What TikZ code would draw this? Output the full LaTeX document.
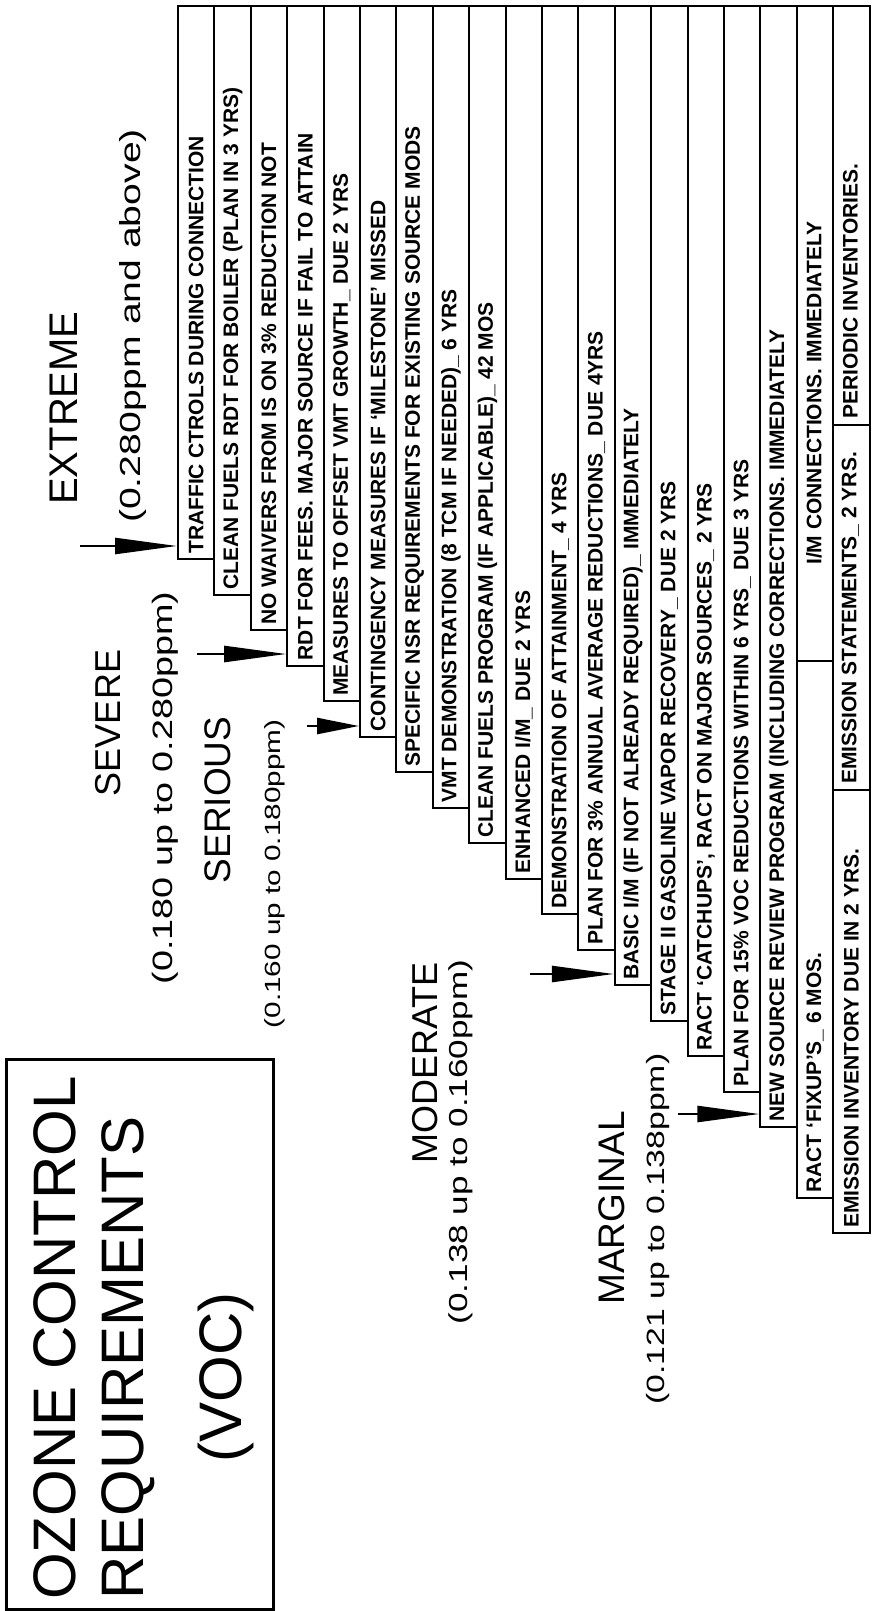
\documentclass[tikz,border=0pt]{standalone}
\usepackage{fontspec}
\usetikzlibrary{arrows.meta}
\newfontfamily\rowfont{Liberation Sans}[Ligatures=TeX]
\newfontfamily\lblfont{Liberation Sans}[Ligatures=TeX]
\newfontfamily\rngfont{Liberation Sans}[Ligatures=TeX,FakeStretch=1.35]

\begin{document}
\begin{tikzpicture}[x=1pt,y=-1pt,
  rowbox/.style={draw,line width=2pt,minimum width=36.4pt,anchor=north west,inner sep=0pt},
  rowtext/.style={rotate=90,anchor=west,inner sep=0pt,font=\rowfont\bfseries\fontsize{21}{21}\selectfont},
  rowline/.style={line width=2pt},
  lvl/.style={rotate=90,inner sep=0pt,font=\lblfont\fontsize{#1}{#1}\selectfont},
  rng/.style={rotate=90,inner sep=0pt,font=\rngfont\fontsize{#1}{#1}\selectfont},
  ttltext/.style={rotate=90,inner sep=0pt,font=\lblfont\fontsize{60}{60}\selectfont},
  arr/.style={line width=2.5pt,-{Triangle[length=62pt,width=16pt]}}
]
\useasboundingbox (0,0) rectangle (889,1611);

% title
\node[draw,line width=2.5pt,minimum width=267pt,minimum height=550pt,anchor=north west,inner sep=0pt] (ttl) at (5,1058) {};
\node[ttltext,anchor=west] (ttl1) at (55,1600) {OZONE CONTROL};
\node[ttltext,anchor=west] (ttl2) at (128,1600) {REQUIREMENTS};
\node[ttltext] (ttl3) at (226,1377) {(VOC)};

% classifications
\node[lvl=40] (ext) at (64,408) {EXTREME};
\node[rng=29] (extr) at (133,326) {(0.280ppm and above)};
\node[lvl=36] (sev) at (108,723) {SEVERE};
\node[rng=28] (sevr) at (165,788) {(0.180 up to 0.280ppm)};
\node[lvl=37] (ser) at (218,800) {SERIOUS};
\node[rng=22] (serr) at (275,874) {(0.160 up to 0.180ppm)};
\node[lvl=36] (mod) at (425,1063) {MODERATE};
\node[rng=26] (modr) at (461,1142) {(0.138 up to 0.160ppm)};
\node[lvl=37] (mar) at (612,1208) {MARGINAL};
\node[rng=25] (marr) at (658,1229) {(0.121 up to 0.138ppm)};

% requirement rows
\node[rowbox,minimum height=553pt] (r1) at (177,5) {};
\node[rowtext] (t1) at ([yshift=6pt]r1.south) {TRAFFIC CTROLS DURING CONNECTION};
\node[rowbox,minimum height=588.5pt] (r2) at (213.4,5) {};
\node[rowtext] (t2) at ([yshift=6pt]r2.south) {CLEAN FUELS RDT FOR BOILER (PLAN IN 3 YRS)};
\node[rowbox,minimum height=624pt] (r3) at (249.8,5) {};
\node[rowtext] (t3) at ([yshift=6pt]r3.south) {NO WAIVERS FROM IS ON 3\% REDUCTION NOT};
\node[rowbox,minimum height=659.5pt] (r4) at (286.2,5) {};
\node[rowtext] (t4) at ([yshift=6pt]r4.south) {RDT FOR FEES. MAJOR SOURCE IF FAIL TO ATTAIN};
\node[rowbox,minimum height=695pt] (r5) at (322.6,5) {};
\node[rowtext] (t5) at ([yshift=6pt]r5.south) {MEASURES TO OFFSET VMT GROWTH\_ DUE 2 YRS};
\node[rowbox,minimum height=730.5pt] (r6) at (359,5) {};
\node[rowtext] (t6) at ([yshift=6pt]r6.south) {CONTINGENCY MEASURES IF `MILESTONE' MISSED};
\node[rowbox,minimum height=766pt] (r7) at (395.4,5) {};
\node[rowtext] (t7) at ([yshift=6pt]r7.south) {SPECIFIC NSR REQUIREMENTS FOR EXISTING SOURCE MODS};
\node[rowbox,minimum height=801.5pt] (r8) at (431.8,5) {};
\node[rowtext] (t8) at ([yshift=6pt]r8.south) {VMT DEMONSTRATION (8 TCM IF NEEDED)\_ 6 YRS};
\node[rowbox,minimum height=837pt] (r9) at (468.2,5) {};
\node[rowtext] (t9) at ([yshift=6pt]r9.south) {CLEAN FUELS PROGRAM (IF APPLICABLE)\_ 42 MOS};
\node[rowbox,minimum height=872.5pt] (r10) at (504.6,5) {};
\node[rowtext] (t10) at ([yshift=6pt]r10.south) {ENHANCED I/M\_ DUE 2 YRS};
\node[rowbox,minimum height=908pt] (r11) at (541,5) {};
\node[rowtext] (t11) at ([yshift=6pt]r11.south) {DEMONSTRATION OF ATTAINMENT\_ 4 YRS};
\node[rowbox,minimum height=943.5pt] (r12) at (577.4,5) {};
\node[rowtext] (t12) at ([yshift=6pt]r12.south) {PLAN FOR 3\% ANNUAL AVERAGE REDUCTIONS\_ DUE 4YRS};
\node[rowbox,minimum height=979pt] (r13) at (613.8,5) {};
\node[rowtext] (t13) at ([yshift=6pt]r13.south) {BASIC I/M (IF NOT ALREADY REQUIRED)\_ IMMEDIATELY};
\node[rowbox,minimum height=1014.5pt] (r14) at (650.2,5) {};
\node[rowtext] (t14) at ([yshift=6pt]r14.south) {STAGE II GASOLINE VAPOR RECOVERY\_ DUE 2 YRS};
\node[rowbox,minimum height=1050pt] (r15) at (686.6,5) {};
\node[rowtext] (t15) at ([yshift=6pt]r15.south) {RACT `CATCHUPS', RACT ON MAJOR SOURCES\_ 2 YRS};
\node[rowbox,minimum height=1085.5pt] (r16) at (723,5) {};
\node[rowtext] (t16) at ([yshift=6pt]r16.south) {PLAN FOR 15\% VOC REDUCTIONS WITHIN 6 YRS\_ DUE 3 YRS};
\node[rowbox,minimum height=1121pt] (r17) at (759.4,5) {};
\node[rowtext] (t17) at ([yshift=6pt]r17.south) {NEW SOURCE REVIEW PROGRAM (INCLUDING CORRECTIONS. IMMEDIATELY};
\node[rowbox,minimum height=1192pt] (r18) at (795.8,5) {};
\node[rowtext] (t18) at ([yshift=6pt]r18.south) {RACT `FIXUP'S\_ 6 MOS.};
\node[rowbox,minimum height=1227pt] (r19) at (832.2,5) {};
\node[rowtext] (t19) at ([yshift=6pt]r19.south) {EMISSION INVENTORY DUE IN 2 YRS.};

% split rows
\coordinate (c18) at (814,661);
\coordinate (c19a) at (850.4,790);
\coordinate (c19b) at (850.4,425);
\draw[rowline] (c18 -| r18.west) -- (c18 -| r18.east);
\draw[rowline] (c19a -| r19.west) -- (c19a -| r19.east);
\draw[rowline] (c19b -| r19.west) -- (c19b -| r19.east);
\node[rowtext] (t18b) at ([yshift=96pt]c18) {I/M CONNECTIONS. IMMEDIATELY};
\node[rowtext] (t19b) at ([yshift=6pt]c19a) {EMISSION STATEMENTS\_ 2 YRS.};
\node[rowtext] (t19c) at ([yshift=6pt]c19b) {PERIODIC INVENTORIES.};

% arrows
\coordinate (aext) at (80,546);
\coordinate (asev) at (197,654);
\coordinate (aser) at (307,726);
\coordinate (amod) at (530,974);
\coordinate (amar) at (678,1114);
\draw[arr] (aext) -- (aext -| r1.west);
\draw[arr] (asev) -- (asev -| r4.west);
\draw[arr,-{Triangle[length=42pt,width=16pt]}] (aser) -- (aser -| r6.west);
\draw[arr] (amod) -- (amod -| r13.west);
\draw[arr] (amar) -- (amar -| r17.west);
\end{tikzpicture}
\end{document}
